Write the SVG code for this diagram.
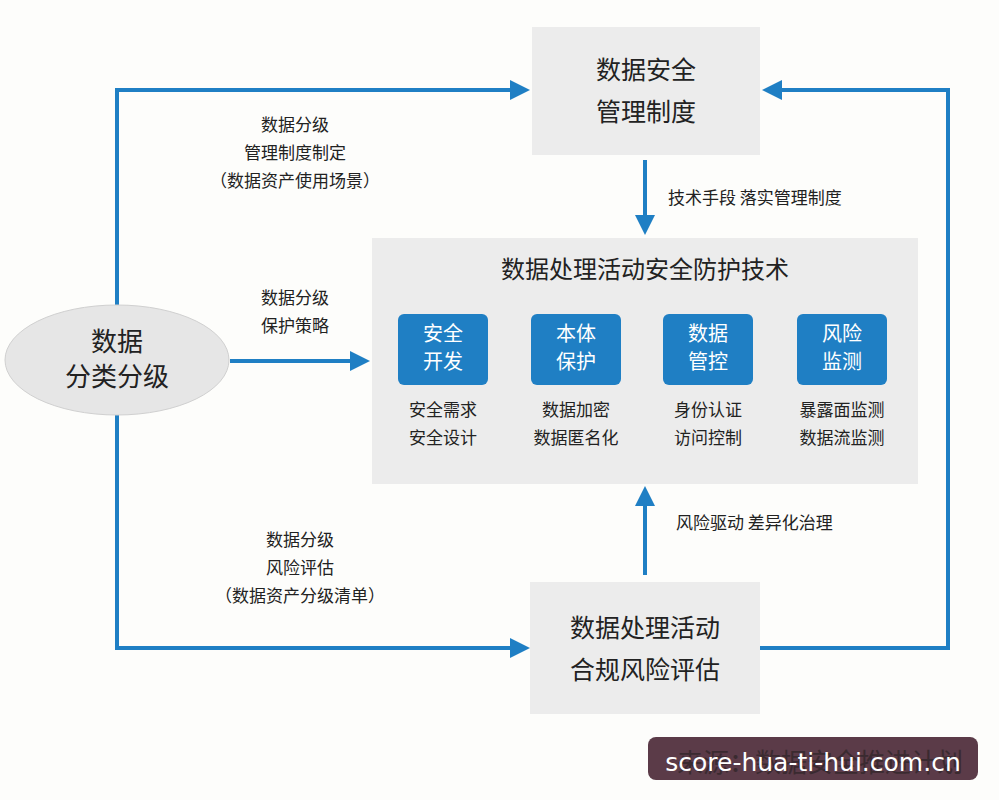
<svg xmlns="http://www.w3.org/2000/svg" width="999" height="800" viewBox="0 0 999 800">
<style>
text{font-family:"Noto Sans CJK SC","Noto Sans",sans-serif;fill:#222;text-anchor:middle}
.box{fill:#ececec}
.big{font-size:25px}
.sub{fill:#1f7fc4}
.st{fill:#fff;font-size:20px}
.lb{font-size:17px}
.c{stroke:#1f7fc4;stroke-width:4;fill:none}
</style>
<defs><marker id="a" markerWidth="5" markerHeight="5" refX="4" refY="2.5" orient="auto" markerUnits="strokeWidth"><path d="M0,0L5,2.5L0,5z" fill="#1f7fc4"/></marker></defs>
<rect width="999" height="800" fill="#fdfdfb"/>
<g id="connectors">
<path class="c" d="M117,305V90H526" marker-end="url(#a)"/>
<path class="c" d="M117,415V648H526" marker-end="url(#a)"/>
<path class="c" d="M230,361H366" marker-end="url(#a)"/>
<path class="c" d="M760,648H948V90H766" marker-end="url(#a)"/>
<path class="c" d="M645,160V231" marker-end="url(#a)"/>
<path class="c" d="M645,575V490" marker-end="url(#a)"/>
</g>
<g id="labels">
<text x="295" y="131" class="lb">数据分级</text>
<text x="295" y="159" class="lb">管理制度制定</text>
<text x="295" y="187" class="lb">（数据资产使用场景）</text>
<text x="295" y="304" class="lb">数据分级</text>
<text x="295" y="332" class="lb">保护策略</text>
<text x="300" y="546" class="lb">数据分级</text>
<text x="300" y="574" class="lb">风险评估</text>
<text x="300" y="602" class="lb">（数据资产分级清单）</text>
<text x="668" y="204" class="lb" style="text-anchor:start">技术手段 落实管理制度</text>
<text x="676" y="529" class="lb" style="text-anchor:start">风险驱动 差异化治理</text>
</g>
<g id="top"><rect class="box" x="532" y="27" width="228" height="128"/>
<text x="646" y="79" class="big">数据安全</text><text x="646" y="121" class="big">管理制度</text></g>
<g id="mid"><rect class="box" x="372" y="238" width="546" height="246"/>
<text x="645" y="278" style="font-size:24px">数据处理活动安全防护技术</text></g>
<g id="s1"><rect class="sub" x="398" y="314" width="90" height="71" rx="6"/><text x="443" y="341" class="st">安全</text><text x="443" y="369" class="st">开发</text>
<text x="443" y="416" class="lb">安全需求</text><text x="443" y="444" class="lb">安全设计</text></g>
<g id="s2"><rect class="sub" x="531" y="314" width="90" height="71" rx="6"/><text x="576" y="341" class="st">本体</text><text x="576" y="369" class="st">保护</text>
<text x="576" y="416" class="lb">数据加密</text><text x="576" y="444" class="lb">数据匿名化</text></g>
<g id="s3"><rect class="sub" x="663" y="314" width="90" height="71" rx="6"/><text x="708" y="341" class="st">数据</text><text x="708" y="369" class="st">管控</text>
<text x="708" y="416" class="lb">身份认证</text><text x="708" y="444" class="lb">访问控制</text></g>
<g id="s4"><rect class="sub" x="797" y="314" width="90" height="71" rx="6"/><text x="842" y="341" class="st">风险</text><text x="842" y="369" class="st">监测</text>
<text x="842" y="416" class="lb">暴露面监测</text><text x="842" y="444" class="lb">数据流监测</text></g>
<g id="bottom"><rect class="box" x="530" y="582" width="230" height="132"/>
<text x="645" y="637" class="big">数据处理活动</text><text x="645" y="679" class="big">合规风险评估</text></g>
<g id="ellipse"><ellipse cx="117" cy="360" rx="112" ry="55" fill="#e6e6e6" stroke="#d0d0d0"/>
<text x="117" y="351" style="font-size:26px">数据</text><text x="117" y="386" style="font-size:26px">分类分级</text></g>
<g id="watermark">
<rect x="648" y="737" width="330" height="43" rx="8" fill="#5b3b48"/>
<text x="820" y="772" style="font-size:26px;fill:#3a2a30">来源：数据安全推进计划</text>
<text x="813" y="771" style="font-size:25px;fill:#fff;font-family:'DejaVu Sans',sans-serif">score-hua-ti-hui.com.cn</text>
</g>
</svg>
